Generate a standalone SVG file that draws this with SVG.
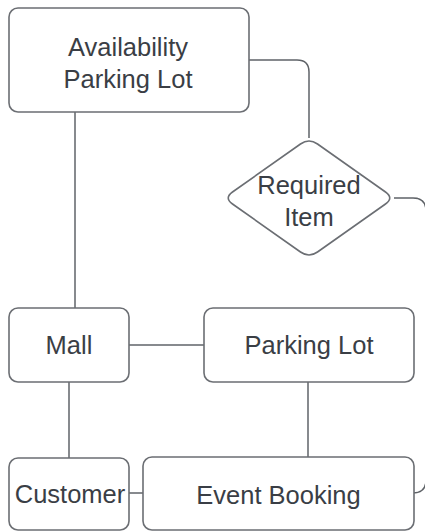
<svg xmlns="http://www.w3.org/2000/svg" width="425" height="531" viewBox="0 0 425 531">
<style>
.box{fill:#ffffff;stroke:#6b6e73;stroke-width:1.6}
.conn{fill:none;stroke:#5f6368;stroke-width:1.5}
.t{font-family:"Liberation Sans",Arial,sans-serif;font-size:25.5px;fill:#3a3e45;text-anchor:middle}
</style>
<rect width="425" height="531" fill="#ffffff"/>
<g id="connectors">
<path class="conn" d="M249,60 H297 Q309,60 309,72 V138"/>
<path class="conn" d="M394,198 H413 Q426,198 426,211 V480 Q426,493 413,493 H414"/>
<path class="conn" d="M75,112 V308"/>
<path class="conn" d="M129,345 H204"/>
<path class="conn" d="M69,382 V458"/>
<path class="conn" d="M308,382 V457"/>
<path class="conn" d="M129,493 H143"/>
</g>
<g id="availability">
<rect class="box" x="9" y="8" width="240" height="104" rx="9"/>
<text class="t" x="128" y="56">Availability</text>
<text class="t" x="128" y="88">Parking Lot</text>
</g>
<g id="required">
<path class="box" d="M317.5,144 L385.5,192 Q394,198 385.5,204 L317.5,252 Q309,258 300.5,252 L232.5,204 Q224,198 232.5,192 L300.5,144 Q309,138 317.5,144 Z"/>
<text class="t" x="309" y="194">Required</text>
<text class="t" x="309" y="226">Item</text>
</g>
<g id="mall">
<rect class="box" x="9" y="308" width="120" height="74" rx="9"/>
<text class="t" x="69" y="354">Mall</text>
</g>
<g id="parking">
<rect class="box" x="204" y="308" width="210" height="74" rx="9"/>
<text class="t" x="309" y="354">Parking Lot</text>
</g>
<g id="customer">
<rect class="box" x="9" y="458" width="120" height="72" rx="9"/>
<text class="t" x="70" y="503">Customer</text>
</g>
<g id="event">
<rect class="box" x="143" y="457" width="271" height="73" rx="9"/>
<text class="t" x="278.5" y="504">Event Booking</text>
</g>
</svg>
